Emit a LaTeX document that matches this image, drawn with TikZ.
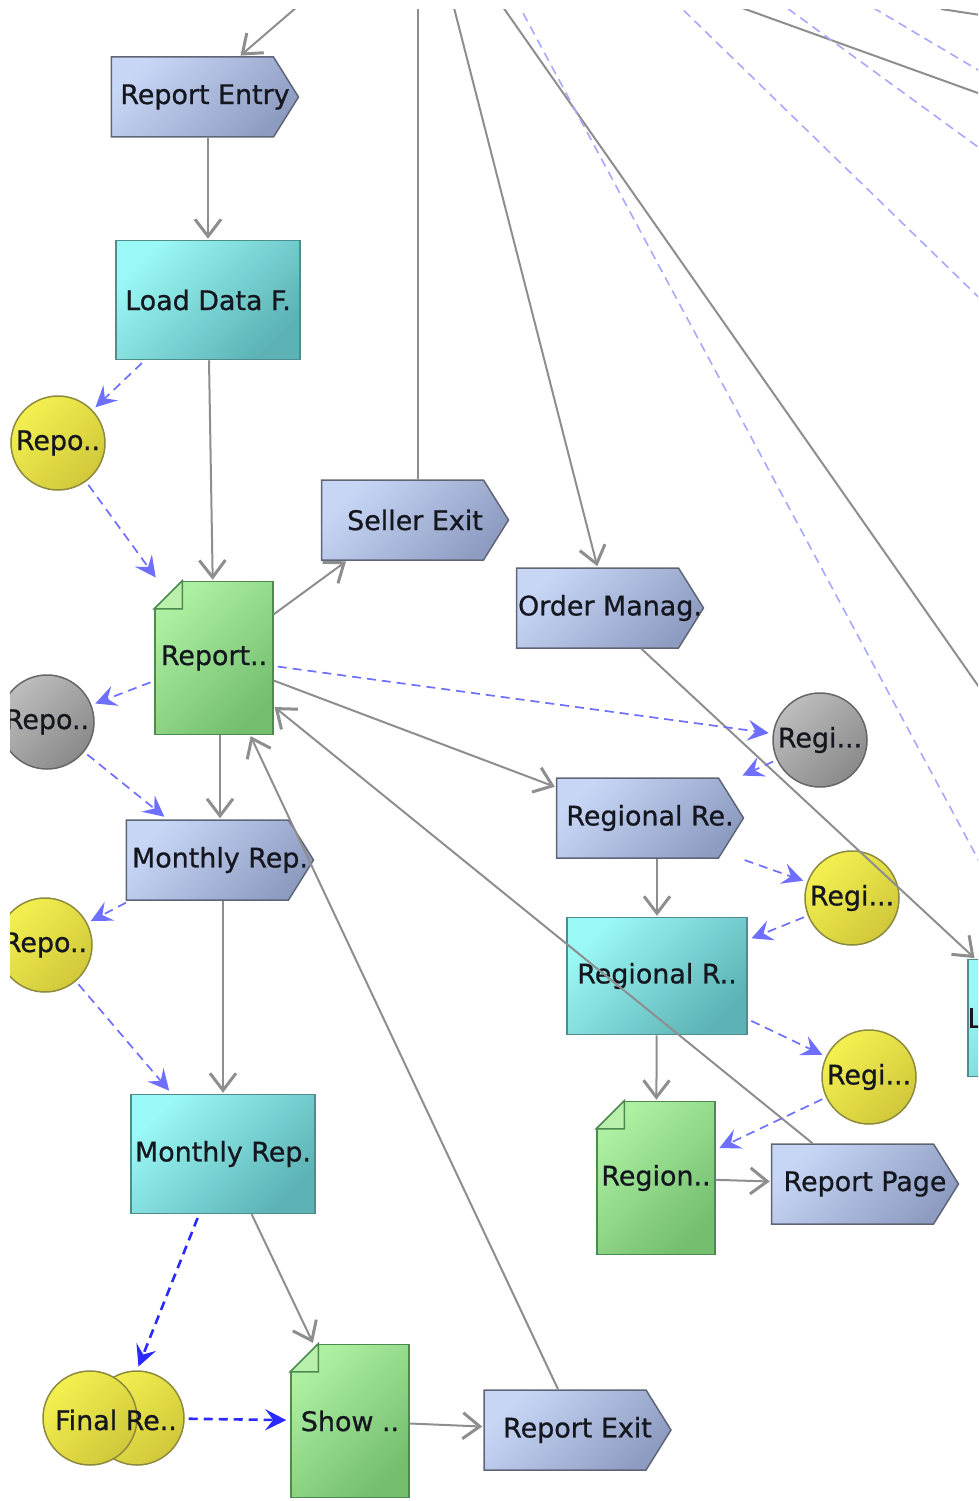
\documentclass[tikz,border=0pt]{standalone}
\usepackage{fontspec}
\setmainfont{DejaVu Sans}
\newfontfamily\labelfamily{DejaVu Sans}[FakeBold=0.8]
\usepackage{xcolor}
\usepackage{tikz}
\usetikzlibrary{calc}
\usetikzlibrary{arrows.meta}
\usetikzlibrary{shapes.symbols}
\definecolor{signaltop}{HTML}{C8D6F6}
\definecolor{signalbottom}{HTML}{8E9CC2}
\definecolor{signalline}{HTML}{5E6577}
\definecolor{boxtop}{HTML}{9AF8F6}
\definecolor{boxbottom}{HTML}{5CB2B4}
\definecolor{boxline}{HTML}{4E8C8E}
\definecolor{doctop}{HTML}{ADF0A2}
\definecolor{docbottom}{HTML}{74BE6E}
\definecolor{docline}{HTML}{4D8A50}
\definecolor{docfold}{HTML}{B8F0AC}
\definecolor{balltop}{HTML}{F4F050}
\definecolor{ballbottom}{HTML}{D0C83A}
\definecolor{ballline}{HTML}{8C8A3E}
\definecolor{greytop}{HTML}{BDBDBD}
\definecolor{greybottom}{HTML}{8A8A8A}
\definecolor{greyline}{HTML}{666666}
\definecolor{flowgray}{HTML}{8E8E8E}
\definecolor{datablue}{HTML}{6E6EFF}
\definecolor{boldblue}{HTML}{2A2AFF}
\definecolor{farblue}{HTML}{A8A8FF}
\definecolor{labelink}{HTML}{15171F}
\newcommand{\mylabelsize}{\fontsize{27}{30}\selectfont}
\tikzset{
  myarrow/.style={
    draw=flowgray,
    line width=2bp,
    -{Straight Barb[length=17bp,width=26bp,line width=3bp]},
    shorten >=1bp,
  },
  mydashed/.style={
    draw=datablue,
    line width=1.7bp,
    dash pattern=on 9bp off 6bp,
    -{Stealth[length=21bp,width=21bp,inset=8bp]},
    shorten <=4bp,
    shorten >=4bp,
  },
  myboldarrow/.style={
    mydashed,
    draw=boldblue,
    line width=2.6bp,
  },
  myfarline/.style={
    draw=flowgray,
    line width=2bp,
  },
  myfardash/.style={
    draw=farblue,
    line width=1.6bp,
    dash pattern=on 9bp off 6bp,
  },
  mytext/.style={
    inner sep=0pt,
    font=\labelfamily\mylabelsize,
    text=labelink,
  },
  mysignal/.style={
    mytext,
    draw=signalline,
    line width=1.5bp,
    shape=signal,
    signal to=east,
    signal pointer angle=116,
    top color=signaltop,
    bottom color=signalbottom,
    shading angle=45,
    minimum width=187bp,
    minimum height=80bp,
    execute at begin node={\hbox to 0pt\bgroup\hss\hskip 25bp\relax},
    execute at end node={\hss\egroup},
  },
  mybox/.style={
    mytext,
    draw=boxline,
    line width=1.5bp,
    shape=rectangle,
    top color=boxtop,
    bottom color=boxbottom,
    shading angle=45,
    minimum width=184bp,
    minimum height=119bp,
  },
  mydoc/.style={
    mytext,
    draw=docline,
    line width=1.5bp,
    shape=rectangle,
    top color=doctop,
    bottom color=docbottom,
    shading angle=45,
    minimum width=118bp,
    minimum height=153bp,
  },
  myball/.style={
    mytext,
    draw=ballline,
    line width=1.5bp,
    shape=circle,
    top color=balltop,
    bottom color=ballbottom,
    shading angle=45,
    minimum size=94bp,
  },
  mygreyball/.style={
    myball,
    draw=greyline,
    top color=greytop,
    bottom color=greybottom,
    shading angle=45,
  },
}

\begin{document}
\begin{tikzpicture}[x=1bp, y=-1bp]
  \useasboundingbox (0,0) rectangle (978,1501);
  \clip (10,10) rectangle (978,1501);

  % ends outside the picture
  \coordinate (entryin)  at (305,0);
  \coordinate (sellerup) at (418,0);
  \coordinate (orderin)  at (452,0);
  \coordinate (farAa) at (498,0);  \coordinate (farAb) at (1000,717);
  \coordinate (farBa) at (516,0);  \coordinate (farBb) at (1000,900);
  \coordinate (farCa) at (673,0);  \coordinate (farCb) at (1000,318);
  \coordinate (farDa) at (776,0);  \coordinate (farDb) at (1000,163);
  \coordinate (farEa) at (860,0);  \coordinate (farEb) at (1000,83);
  \coordinate (farFa) at (720,0);  \coordinate (farFb) at (1000,101);
  \coordinate (farGa) at (941,9);  \coordinate (farGb) at (1000,18);

  \draw[myfarline] (farAa) -- (farAb);
  \draw[myfarline] (farFa) -- (farFb);
  \draw[myfarline] (farGa) -- (farGb);
  \draw[myfardash] (farBa) -- (farBb);
  \draw[myfardash] (farCa) -- (farCb);
  \draw[myfardash] (farDa) -- (farDb);
  \draw[myfardash] (farEa) -- (farEb);

  \node[mysignal]   (entry)      at (192.5,97)  {Report Entry};
  \node[mybox]      (loaddata)   at (208,300)   {Load Data F.};
  \node[myball]     (repoa)      at (58,443)    {Repo..};
  \node[mydoc]      (report)     at (214,658)   {Report..};
  \node[mysignal]   (seller)     at (402.5,520) {Seller Exit};
  \node[mysignal]   (order)      at (597.5,608) {Order Manag.};
  \node[mygreyball] (regia)      at (820,740)   {Regi...};
  \node[mysignal]   (regionalre) at (637.5,818) {Regional Re.};
  \node[myball]     (regib)      at (852,898)   {Regi...};
  \node[mybox, minimum width=180bp, minimum height=117bp] (regionalr) at (657,976) {Regional R..};
  \node[myball]     (regic)      at (869,1077)  {Regi...};
  \node[mydoc]      (region)     at (656,1178)  {Region..};
  \node[mysignal]   (reportpage) at (852.5,1184) {Report Page};
  \node[mybox, minimum width=180bp, minimum height=117bp] (lbox) at (1058,1018) {};
  \node[mytext, anchor=west] (ltext) at (lbox.west) {L};
  \node[mygreyball] (repob)      at (47,722)    {Repo..};
  \node[mysignal]   (monthlyrep) at (207.5,860) {Monthly Rep.};
  \node[myball]     (repoc)      at (45,945)    {Repo..};
  \node[mybox]      (monthlyr)   at (223,1154)  {Monthly Rep.};
  \node[myball]     (finalback)  at (137,1418)  {};
  \node[myball]     (final)      at (90,1418)   {};
  \node[mytext]     (finaltext)  at (116,1420)  {Final Re..};
  \node[mydoc]      (show)       at (350,1421)  {Show ..};
  \node[mysignal]   (reportexit) at (565,1430)  {Report Exit};

  % folded corners
  \foreach \d in {report,region,show}{
    \fill[white] ([shift={(-2bp,2bp)}]\d.north west) -- ([shift={(29bp,2bp)}]\d.north west)
      -- ([shift={(-2bp,-29bp)}]\d.north west) -- cycle;
    \filldraw[fill=docfold, draw=docline, line width=1.5bp] ([xshift=28bp]\d.north west)
      -- ([xshift=28bp,yshift=-28bp]\d.north west) -- ([yshift=-28bp]\d.north west) -- cycle;
  }

  \draw[myarrow] (entryin) -- (entry);
  \draw[myarrow] (loaddata |- entry.south) -- (loaddata);
  \draw[myarrow] (loaddata) -- (report);
  \draw[myfarline] (sellerup) -- (sellerup |- seller.north);
  \draw[myarrow] (orderin) -- (order.north);
  \draw[myarrow] (report) -- (seller);
  \draw[myarrow] (report) -- (regionalre);
  \draw[myarrow] ([xshift=6bp]report.south) -- ([xshift=6bp]report.south |- monthlyrep.north);
  \draw[myarrow] (order) -- ([xshift=8bp]lbox.north west);
  \draw[myarrow] (regionalr |- regionalre.south) -- (regionalr);
  \draw[myarrow] (regionalr) -- (region);
  \draw[myarrow] (region) -- (reportpage);
  \draw[myarrow] ([xshift=-40bp]reportpage.north) -- (report);
  \draw[myarrow] ([xshift=-7bp]reportexit.north) -- (report);
  \draw[myarrow] (monthlyr |- monthlyrep.south) -- (monthlyr);
  \draw[myarrow] (monthlyr) -- (show);
  \draw[myarrow] (show) -- (reportexit);

  \draw[mydashed] (loaddata) -- (repoa);
  \draw[mydashed] (repoa) -- (report);
  \draw[mydashed] (report) -- (repob);
  \draw[mydashed] (repob) -- ([xshift=-40bp]monthlyrep.north);
  \draw[mydashed] (monthlyrep) -- (repoc);
  \draw[mydashed] (repoc) -- (monthlyr);
  \draw[mydashed] (report) -- (regia);
  \draw[mydashed] (regia) -- ([xshift=20bp]regionalre.north east);
  \draw[mydashed] ([xshift=22bp]regionalre.south east) -- (regib);
  \draw[mydashed] (regib) -- (regionalr);
  \draw[mydashed] (regionalr) -- (regic);
  \draw[mydashed] (regic) -- (region);
  \draw[myboldarrow] (monthlyr) -- (finalback.north);
  \draw[myboldarrow] (finalback) -- (show);
\end{tikzpicture}
\end{document}
